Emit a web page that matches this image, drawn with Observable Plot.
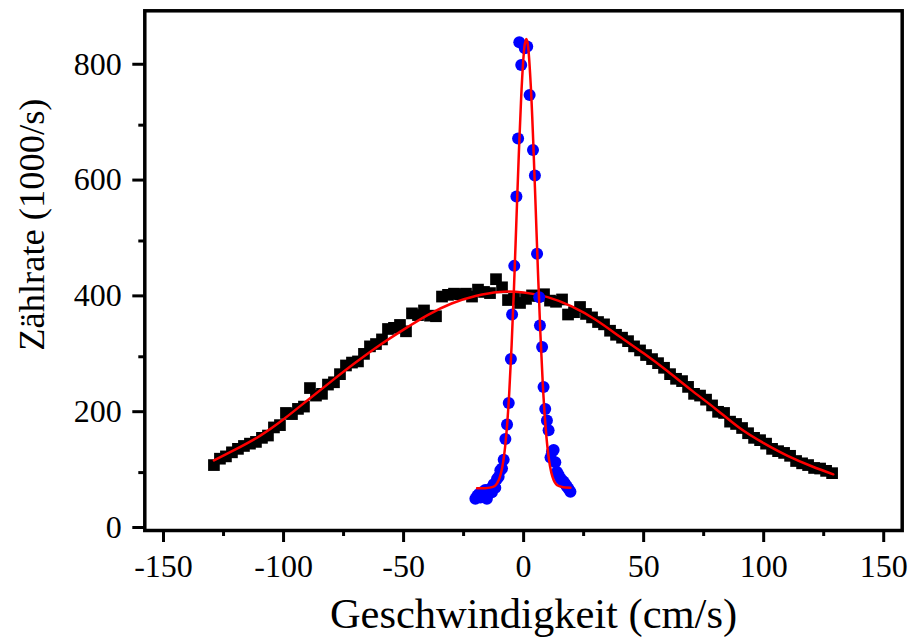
<!DOCTYPE html>
<html>
<head>
<meta charset="utf-8">
<script src="https://cdn.jsdelivr.net/npm/d3@7"></script>
<script src="https://cdn.jsdelivr.net/npm/@observablehq/plot@0.6"></script>
<style>
  html, body { margin: 0; padding: 0; background: #fff; }
</style>
</head>
<body>
<div id="chart"></div>
<script>
// Black squares: broad distribution
const broadX = [-129.0,-126.5,-124.0,-121.5,-119.0,-116.5,-114.0,-111.5,-109.0,-106.5,-104.0,-101.5,-99.0,-96.5,-94.0,-91.5,-89.0,-86.5,-84.0,-81.5,-79.0,-76.5,-74.0,-71.5,-69.0,-66.5,-64.0,-61.5,-59.0,-56.5,-54.0,-51.5,-49.0,-46.5,-44.0,-41.5,-39.0,-36.5,-34.0,-31.5,-29.0,-26.5,-24.0,-21.5,-19.0,-16.5,-14.0,-11.5,-9.0,-6.5,-4.0,-1.5,1.0,3.5,6.0,8.5,11.0,13.5,16.0,18.5,21.0,23.5,26.0,28.5,31.0,33.5,36.0,38.5,41.0,43.5,46.0,48.5,51.0,53.5,56.0,58.5,61.0,63.5,66.0,68.5,71.0,73.5,76.0,78.5,81.0,83.5,86.0,88.5,91.0,93.5,96.0,98.5,101.0,103.5,106.0,108.5,111.0,113.5,116.0,118.5,121.0,123.5,126.0,128.5];
const broadY = [113,124,128,135,141,146,150,153,160,164,178,182,203,201,210,214,246,233,236,252,256,270,285,290,292,305,318,322,330,348,350,355,344,375,372,380,371,370,404,407,409,408,409,404,416,412,410,434,420,398,400,393,400,406,405,408,397,395,399,373,377,386,374,368,360,356,345,338,333,327,318,311,303,296,289,281,270,262,258,248,236,233,226,216,205,203,188,184,177,168,160,156,150,141,137,134,129,120,116,113,108,107,103,99];

// Red fit of the broad distribution
const broadFitX = [-129,-120,-110,-100,-90,-80,-70,-60,-50,-40,-30,-20,-10,0,10,20,30,40,50,60,70,80,90,100,110,120,129];
const broadFitY = [121,140,163,192,225,258,290,320,347,372,392,405,412,411,403,387,364,335,306,275,242,210,177,151,129,111,97];

// Blue circles: narrow distribution
const narrowX = [-20.1,-19.3,-18.6,-18.0,-17.3,-16.6,-16.0,-15.3,-14.6,-13.9,-13.2,-12.5,-11.8,-11.1,-10.4,-9.7,-9.0,-8.3,-7.6,-6.9,-6.2,-5.3,-4.8,-3.9,-3.0,-2.3,-1.8,-1.0,0.5,1.5,2.5,3.9,4.7,5.6,6.5,6.8,7.7,8.3,9.0,9.7,10.4,11.2,11.8,12.5,13.2,13.9,14.6,15.3,16.0,16.7,17.4,18.0,18.7,19.5];
const narrowY = [55,60,63,57,66,58,70,55,68,72,66,80,74,89,93,104,107,122,158,183,220,296,373,457,577,677,843,804,833,836,752,657,613,478,403,354,317,248,210,190,173,126,136,139,118,101,96,90,87,84,80,76,72,67];

// Red fit of the narrow distribution
const narrowFitX = [-19.4,-16,-14,-12,-11,-10,-9,-8,-7,-6,-5,-4,-3,-2,-1,0,0.5,1.1,1.5,2,3,4,5,6,7,8,9,10,11,12,13,14,16,19.5];
const narrowFitY = [73,73,74,77,82,91,107,134,176,237,320,421,536,650,750,820,840,849,845,830,767,672,559,444,339,252,187,141,111,93,83,78,75,74];

const xMajor = [-150,-100,-50,0,50,100,150];
const xMinor = [-125,-75,-25,25,75,125];
const yMajor = [0,200,400,600,800];
const yMinor = [100,300,500,700];

const broad = broadX.map((x, i) => ({x, y: broadY[i]}));
const broadFit = broadFitX.map((x, i) => ({x, y: broadFitY[i]}));
const narrow = narrowX.map((x, i) => ({x, y: narrowY[i]}));
const narrowFit = narrowFitX.map((x, i) => ({x, y: narrowFitY[i]}));

const font = "'Liberation Serif', 'Times New Roman', serif";

const chart = Plot.plot({
  width: 909,
  height: 637,
  marginLeft: 144.3,
  marginRight: 7.3,
  marginTop: 10.3,
  marginBottom: 107,
  style: {fontFamily: font, background: "#fff", color: "#000"},
  x: {domain: [-157.8, 157.7], axis: null},
  y: {domain: [0, 897.5], axis: null},
  marks: [
    Plot.dot(broad, {x: "x", y: "y", symbol: "square", r: 6.6, fill: "#000", stroke: null}),
    Plot.line(broadFit, {x: "x", y: "y", stroke: "#ff0000", strokeWidth: 2.5, curve: "natural"}),
    Plot.dot(narrow, {x: "x", y: "y", r: 6, fill: "#0000ff", stroke: null}),
    Plot.line(narrowFit, {x: "x", y: "y", stroke: "#ff0000", strokeWidth: 2.5, curve: "catmull-rom"}),
    Plot.axisX({ticks: xMajor, tickSize: 12, tickPadding: 12, strokeWidth: 3, fontSize: 32, tickFormat: d => String(d), label: null}),
    Plot.axisX({ticks: xMinor, tickSize: 6, strokeWidth: 3, tickFormat: () => "", label: null}),
    Plot.axisY({ticks: yMajor, tickSize: 12, tickPadding: 11, strokeWidth: 3, fontSize: 32, tickFormat: d => String(d), dy: -3, label: null}),
    Plot.axisY({ticks: yMinor, tickSize: 6, strokeWidth: 3, tickFormat: () => "", label: null}),
    Plot.frame({stroke: "#000", strokeWidth: 3.5}),
    Plot.text(["Geschwindigkeit (cm/s)"], {frameAnchor: "bottom", lineAnchor: "bottom", dx: 10, dy: 97, fontSize: 42.5}),
    Plot.text(["Zählrate (1000/s)"], {frameAnchor: "left", rotate: -90, textAnchor: "middle", dx: -112, dy: -46, fontSize: 36.5})
  ]
});
document.getElementById("chart").appendChild(chart);
</script>
</body>
</html>
